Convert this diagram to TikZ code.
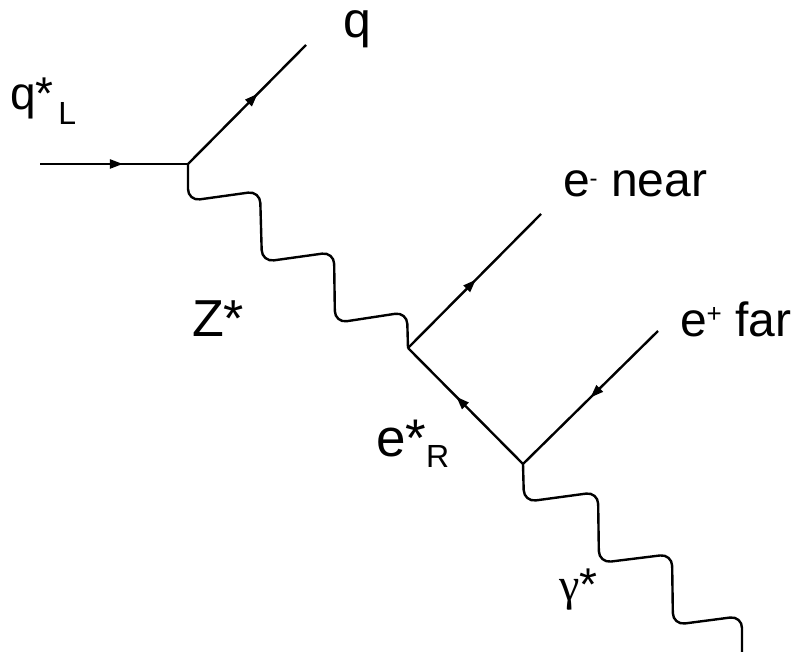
\documentclass[tikz,border=0pt]{standalone}
\usepackage{fontspec}
\setmainfont{Liberation Sans}
\newfontfamily\symfont{Liberation Serif}
\usetikzlibrary{decorations.markings,arrows.meta}
\newcommand{\fs}[1]{\fontsize{#1}{#1}\selectfont}
\begin{document}
\begin{tikzpicture}[x=1pt,y=-1pt,
  fermion/.style={line width=2.4pt,postaction={decorate},
    decoration={markings,mark=at position #1 with {\arrow{Triangle[length=13pt,width=9pt]}}}},
  boson/.style={line width=2.4pt,rounded corners=12pt},
  lbl/.style={anchor=base west,inner sep=0pt,outer sep=0pt}]
\useasboundingbox (0,0) rectangle (807,652);
% vertices and end points
\coordinate (v1) at (188,164);
\coordinate (v2) at (408,348);
\coordinate (v3) at (523,464);
\coordinate (qin) at (40,164);
\coordinate (qout) at (306,45);
\coordinate (eminus) at (541,214);
\coordinate (eplus) at (658,331);
\coordinate (gend) at (742,652);
% fermion lines
\draw[fermion=0.56] (qin) -- (v1);
\draw[fermion=0.59] (v1) -- (qout);
\draw[fermion=0.51] (v2) -- (eminus);
\draw[fermion=0.58] (v3) -- (v2);
\draw[fermion=0.50] (eplus) -- (v3);
% bosons
\draw[boson] (v1) -- (188,201) -- (260,191) -- (262,262) -- (334,252) -- (335,323) -- (407,312) -- (v2);
\draw[boson] (v3) -- (524,502) -- (598,492) -- (599,563) -- (672,554) -- (673,625) -- (742,616) -- (gend);
% labels
\node[lbl] (lqL) at (10,110) {\fs{46}q*\hspace{5pt}\raisebox{-15pt}{\fs{32}L}};
\node[lbl,text height=28pt] (lq) at (343,38) {\fs{50}q};
\node[lbl] (lem) at (563,197) {\fs{48}e\raisebox{10pt}{\fs{24}-} near};
\node[lbl] (lep) at (680,337) {\fs{48}e\raisebox{14pt}{\fs{26}+} far};
\node[lbl] (lZ) at (192,337) {\fs{52}Z*};
\node[lbl] (leR) at (376,457) {\fs{53}e*\raisebox{-11pt}{\fs{32}R}};
\node[lbl] (lg) at (559,601) {\fs{46}{\symfont γ}*};
\end{tikzpicture}
\end{document}
